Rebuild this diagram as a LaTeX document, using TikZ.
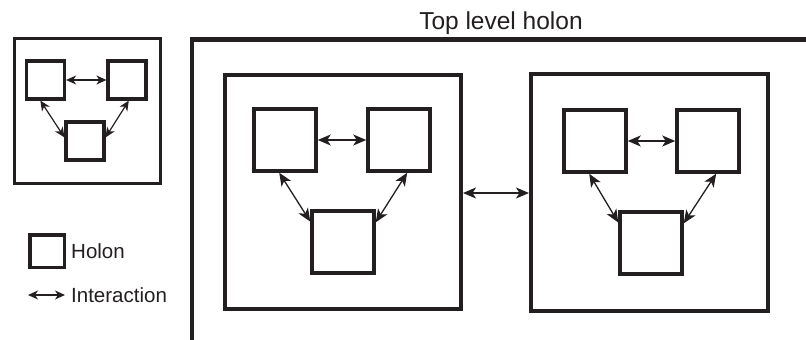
\documentclass[tikz,border=0pt]{standalone}
\usepackage{fontspec}
\setmainfont{Liberation Sans}
\usepackage{xcolor}
\usetikzlibrary{arrows.meta}
\definecolor{holonink}{HTML}{231F20}
\tikzset{
    holon/.style={draw=holonink, line width=3.5pt, minimum width=62pt, minimum height=62pt, inner sep=0pt},
    smallholon/.style={holon, line width=3.2pt, minimum width=38pt, minimum height=38pt},
    holongroup/.style={draw=holonink, line width=4pt, inner sep=0pt},
    interaction/.style={draw=holonink, line width=1.3pt,
        {Stealth[length=13pt, width=11pt, inset=3.5pt]}-{Stealth[length=13pt, width=11pt, inset=3.5pt]}},
    smallinteraction/.style={draw=holonink, line width=1.2pt,
        {Stealth[length=10pt, width=9pt, inset=3pt]}-{Stealth[length=10pt, width=9pt, inset=3pt]}},
    legendtext/.style={text=holonink, anchor=west, inner sep=0pt, font=\fontsize{20.5}{24}\selectfont},
}

\begin{document}
\begin{tikzpicture}[x=1pt, y=-1pt]
    \useasboundingbox (0,0) rectangle (806,340);

    % small holarchy, top left
    \node[holongroup, line width=3pt, minimum width=146pt, minimum height=145pt] (small) at (87.5,111) {};
    \node[smallholon] (sa) at (45.5,80) {};
    \node[smallholon] (sb) at (127,80) {};
    \node[smallholon] (sc) at (85,141) {};
    \draw[smallinteraction] (sa.east) -- (sb.west);
    \draw[smallinteraction] (sa.256) -- (sc.170);
    \draw[smallinteraction] (sb.275) -- (sc.10);

    % legend
    \node[holon, minimum width=34.5pt, minimum height=32.5pt] (legholon) at (47,251) {};
    \node[legendtext] (legholontext) at (71,251) {Holon};
    \coordinate (legfrom) at (28,295);
    \coordinate (legto) at (65,295);
    \draw[smallinteraction, line width=1.3pt] (legfrom) -- (legto);
    \node[legendtext] (leginteraction) at (71,295) {Interaction};

    % top level holon
    \draw[holongroup, line width=4.5pt] (806,39.5) -- (192,39.5) -- (192,340);
    \node[text=holonink, anchor=base, inner sep=0pt, font=\fontsize{24.5}{28}\selectfont] (top) at (501,29) {Top level holon};

    \node[holongroup, minimum width=236pt, minimum height=234pt] (left) at (343,192) {};
    \node[holongroup, minimum width=237pt, minimum height=237pt] (right) at (649.5,192.5) {};
    \draw[interaction] (left.east |- 0,193) -- (right.west |- 0,193);

    \node[holon] (la) at (285,140) {};
    \node[holon] (lb) at (399,140) {};
    \node[holon] (lc) at (343,242) {};
    \draw[interaction] (la.east) -- (lb.west);
    \draw[interaction] (la.260) -- (lc.148);
    \draw[interaction] (lb.284) -- (lc.31);

    \node[holon] (ra) at (595,141) {};
    \node[holon] (rb) at (708,141) {};
    \node[holon] (rc) at (651,243) {};
    \draw[interaction] (ra.east) -- (rb.west);
    \draw[interaction] (ra.260) -- (rc.148);
    \draw[interaction] (rb.284) -- (rc.31);

\end{tikzpicture}
\end{document}
